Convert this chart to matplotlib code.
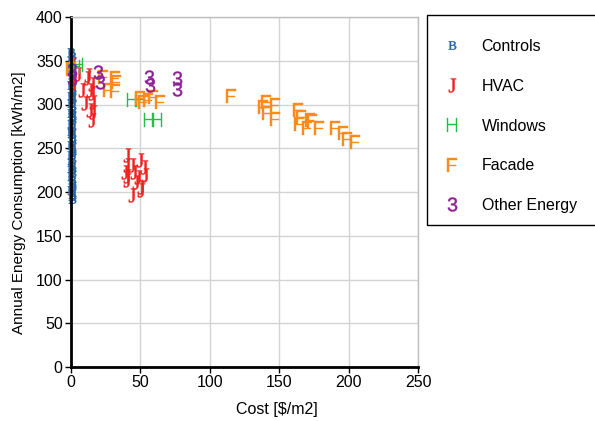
import matplotlib.pyplot as plt
from matplotlib.patches import Rectangle
import numpy as np

plt.rcParams['font.family'] = 'Liberation Sans'
plt.rcParams['mathtext.fontset'] = 'custom'
plt.rcParams['mathtext.rm'] = 'Liberation Serif'
plt.rcParams['mathtext.sf'] = 'Liberation Sans'

# --- data (cost $/m2, energy kWh/m2) ---
controls_y = [360, 355, 350, 346, 342, 338, 334, 330, 326, 322, 318, 314, 310, 306, 302,
              298, 294, 290, 286, 282, 278, 274, 270, 266, 262, 258, 254, 250, 246, 242,
              238, 234, 230, 226, 222, 218, 214, 210, 206, 202, 198, 195, 192, 208, 228,
              248, 268, 288, 308, 328]
controls_x = [0.3, 0.8, 0.2, 1.0, 0.5, 0.1, 0.9, 0.4, 0.7, 0.2, 1.0, 0.5, 0.1, 0.8, 0.3,
              0.6, 0.9, 0.2, 0.5, 1.0, 0.3, 0.7, 0.1, 0.8, 0.4, 0.6, 0.2, 1.0, 0.5, 0.3,
              0.8, 0.1, 0.6, 0.9, 0.4, 0.2, 0.7, 0.5, 1.0, 0.3, 0.6, 0.4, 0.5, 0.9, 0.1,
              0.7, 0.2, 1.0, 0.4, 0.6]

hvac_x = [1, 5, 1.5, 11.5, 12.5, 15, 7.7, 13.7, 15, 10, 16, 13.7, 16, 15,
          40.1, 40.1, 43.7, 49.7, 52.8, 38.9, 45.6, 48.5, 53.3, 40.1, 46.8, 50.4, 43.7, 50.4, 40]
hvac_y = [346, 335, 324, 330, 334, 324, 317, 317, 313, 302, 303, 294, 291, 282,
          242, 231, 231, 237, 229, 223, 223, 217, 219, 214, 212, 206, 197, 202, 218]

windows_x = [3, 5.3, 43.7, 49.7, 56.4, 62.2]
windows_y = [343, 345, 305, 305, 282, 282]

facade_x = [0, 23.3, 31.7, 27, 31.7, 32.4, 49.7, 55.7, 58.8, 64.1, 52,
            115, 140.5, 138, 147, 141, 147, 163.8, 166, 164, 172, 173.4, 170, 179,
            190, 196, 199, 204.6]
facade_y = [341, 332, 330, 317, 315, 326, 307, 305, 309, 303, 303,
            310, 303, 297, 299, 290, 284, 294, 286, 278, 282, 281, 273, 273,
            273, 267, 261, 257]

other_x = [0.5, 0.8, 19.7, 20.9, 56.4, 57, 76.2, 76.6]
other_y = [339, 330, 337, 326, 332, 322, 330, 318]

series = [
    ('Controls', controls_x, controls_y, r'$\mathrm{B}$', '#2563ad', 6),
    ('HVAC', hvac_x, hvac_y, r'$\mathrm{J}$', '#f22020', 10),
    ('Windows', windows_x, windows_y, r'$\mathsf{H}$', '#1fbf4a', 9.5),
    ('Facade', facade_x, facade_y, r'$\mathsf{F}$', '#ff8a1c', 9.5),
    ('Other Energy', other_x, other_y, r'$\mathsf{3}$', '#8e1f96', 10),
]

fig = plt.figure(figsize=(5.95, 4.21), dpi=100)
ax = fig.add_axes([71 / 595, 1 - 367 / 421, 347 / 595, 350 / 421])

for label, xs, ys, mk, col, ms in series:
    ax.plot(xs, ys, linestyle='none', marker=mk, color=col, markersize=ms,
            markeredgewidth=0.3, label=label, clip_on=False)

ax.set_xlim(0, 250)
ax.set_ylim(0, 400)
ax.set_xticks(np.arange(0, 251, 50))
ax.set_yticks(np.arange(0, 401, 50))
ax.grid(color='#d4d4d4', linewidth=1)
ax.set_axisbelow(True)
ax.tick_params(labelsize=11.5, length=4, width=1, colors='black', pad=2)
for s in ['left', 'bottom']:
    ax.spines[s].set_linewidth(2)
for s in ['top', 'right']:
    ax.spines[s].set_color('#bdbdbd')
    ax.spines[s].set_linewidth(1)

ax.set_xlabel('Cost [$/m2]', fontsize=11.5)
ax.set_ylabel('Annual Energy Consumption [kWh/m2]', fontsize=11)
ax.xaxis.set_label_coords(0.594, -0.10)
ax.yaxis.set_label_coords(-0.130, 0.469)

# legend box drawn separately (frame sits beyond the figure's right edge)
fig.patches.append(Rectangle((427 / 595, 1 - 225 / 421), 0.3, 210 / 421,
                             transform=fig.transFigure, fill=False,
                             edgecolor='black', linewidth=1))
leg = fig.legend(loc='upper left', bbox_to_anchor=(440 / 595, 1 - 39 / 421),
                 fontsize=11.5, frameon=False, labelspacing=1.55,
                 borderpad=0, handletextpad=1.1, handlelength=1.5,
                 borderaxespad=0, markerscale=1.0)

fig.savefig('out.png', dpi=100)
